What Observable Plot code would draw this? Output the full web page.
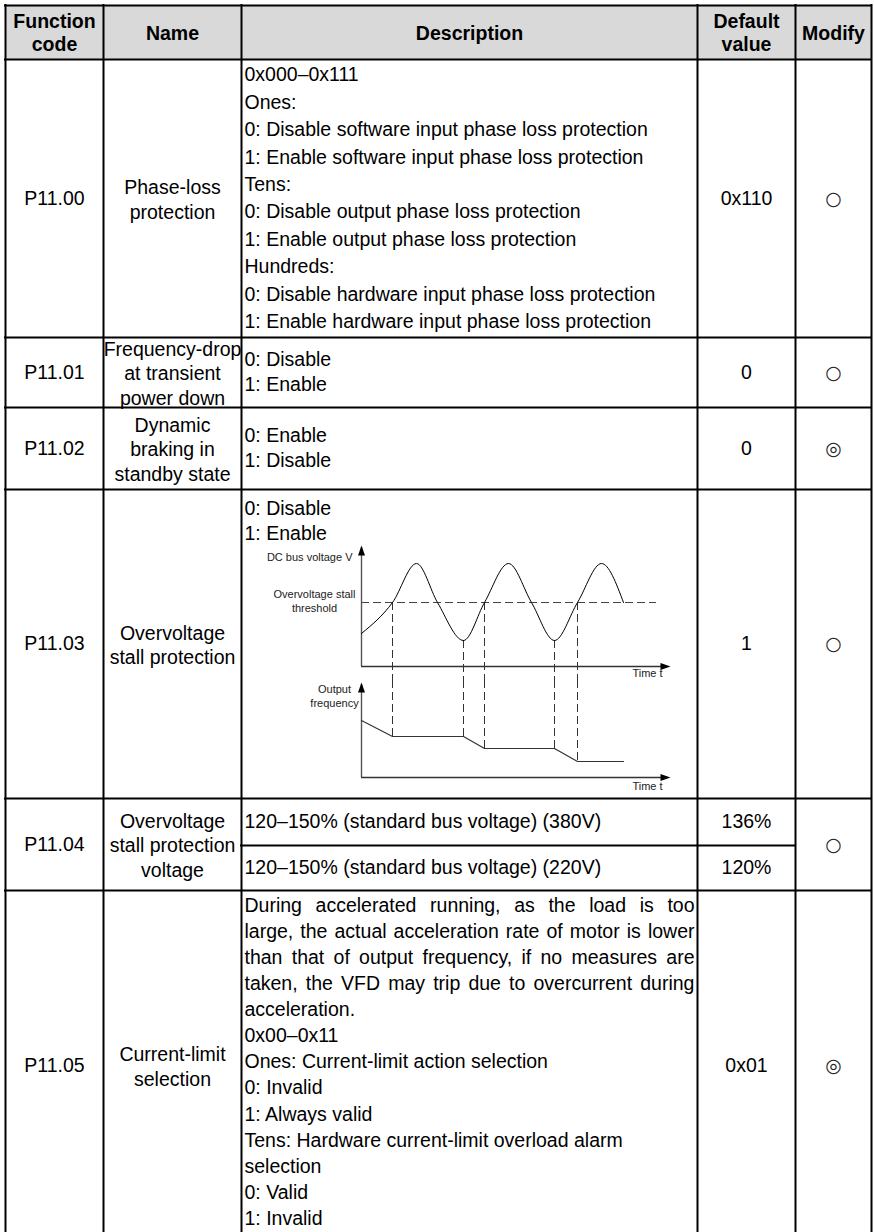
<!DOCTYPE html>
<html><head><meta charset="utf-8">
<script src="https://cdn.jsdelivr.net/npm/d3@7"></script>
<script src="https://cdn.jsdelivr.net/npm/@observablehq/plot@0.6"></script>
<style>
html,body{margin:0;padding:0;background:#fff;}
#page{position:relative;width:874px;height:1232px;overflow:hidden;background:#fff;}
#page svg{position:absolute;}
</style></head><body><div id="page"></div>
<script>
// ---------------- DATA ----------------
const headers = ["Function\ncode", "Name", "Description", "Default\nvalue", "Modify"];
const codes = ["P11.00", "P11.01", "P11.02", "P11.03", "P11.04", "P11.05"];
const names = [
  "Phase-loss\nprotection",
  "Frequency-drop\nat transient\npower down",
  "Dynamic\nbraking in\nstandby state",
  "Overvoltage\nstall protection",
  "Overvoltage\nstall protection\nvoltage",
  "Current-limit\nselection"
];
const descP1100 = [
  "0x000–0x111", "Ones:",
  "0: Disable software input phase loss protection",
  "1: Enable software input phase loss protection",
  "Tens:",
  "0: Disable output phase loss protection",
  "1: Enable output phase loss protection",
  "Hundreds:",
  "0: Disable hardware input phase loss protection",
  "1: Enable hardware input phase loss protection"
];
const descP1101 = ["0: Disable", "1: Enable"];
const descP1102 = ["0: Enable", "1: Disable"];
const descP1103 = ["0: Disable", "1: Enable"];
const descP1104 = ["120–150% (standard bus voltage) (380V)", "120–150% (standard bus voltage) (220V)"];
const descP1105 = [
  "During accelerated running, as the load is too",
  "large, the actual acceleration rate of motor is lower",
  "than that of output frequency, if no measures are",
  "taken, the VFD may trip due to overcurrent during",
  "acceleration.",
  "0x00–0x11",
  "Ones: Current-limit action selection",
  "0: Invalid",
  "1: Always valid",
  "Tens: Hardware current-limit overload alarm",
  "selection",
  "0: Valid",
  "1: Invalid"
];
const justifiedP1105 = [true, true, true, true, false, false, false, false, false, false, false, false, false];
const defaults = ["0x110", "0", "0", "1", ["136%", "120%"], "0x01"];
const modify = ["○", "○", "◎", "○", "○", "◎"];

// Diagram (P11.03): time t, DC bus voltage v, output frequency f
const voltageCurve = [
  {t: 0, v: 33}, {t: 3.1, v: 64}, {t: 5.5, v: 103}, {t: 7.6, v: 64}, {t: 10.2, v: 26},
  {t: 12.3, v: 64}, {t: 14.7, v: 103}, {t: 17.0, v: 64}, {t: 19.3, v: 26},
  {t: 21.6, v: 64}, {t: 24.0, v: 103}, {t: 26.2, v: 64}
];
const stallThreshold = 64;
const thresholdEnd = 29.5;
const frequencyCurve = [
  {t: 0, f: 57}, {t: 3.1, f: 41}, {t: 10.2, f: 41}, {t: 12.3, f: 29},
  {t: 19.3, f: 29}, {t: 21.6, f: 16}, {t: 26.2, f: 16}
];
const eventTimes = [3.1, 10.2, 12.3, 19.3, 21.6];
const eventVoltage = [64, 26, 64, 26, 64];
const eventFrequency = [41, 41, 29, 29, 16];
const axisTimeMax = 30.9, axisVMax = 121, axisFMax = 95;

// ---------------- LAYOUT ----------------
const colEdges = [5, 103, 241, 697, 795, 871];
const rowEdges = [5, 59, 337, 407, 489, 798, 890, 1240];
const splitY = 845;
const FONT = "'Liberation Sans', Arial, Helvetica, sans-serif";
const FS = 19.5;
const colC = i => (colEdges[i] + colEdges[i + 1]) / 2;
const rowC = i => (rowEdges[i] + rowEdges[i + 1]) / 2;
const textLeft = colEdges[2] + 3, textRight = colEdges[3] - 3;

// description line items
const descItems = [];
function addLines(lines, y0, dy, just) {
  lines.forEach((s, k) => descItems.push({x: textLeft, y: y0 + k * dy, text: s, justify: just ? just[k] : false}));
}
function centered(lines, r, dy) { addLines(lines, rowC(r) - (lines.length - 1) / 2 * dy, dy); }
centered(descP1100, 1, 27.4);
centered(descP1101, 2, 25);
centered(descP1102, 3, 25);
addLines(descP1103, rowEdges[4] + 19, 25);
descItems.push({x: textLeft, y: (rowEdges[5] + splitY) / 2, text: descP1104[0]});
descItems.push({x: textLeft, y: (splitY + rowEdges[6]) / 2, text: descP1104[1]});
addLines(descP1105, rowEdges[6] + 15, 26.1, justifiedP1105);

const defaultItems = [];
defaults.forEach((d, i) => {
  if (Array.isArray(d)) {
    defaultItems.push({text: d[0], y: (rowEdges[i + 1] + splitY) / 2});
    defaultItems.push({text: d[1], y: (splitY + rowEdges[i + 2]) / 2});
  } else defaultItems.push({text: d, y: rowC(i + 1)});
});

// borders
const hLines = [];
rowEdges.slice(0, 7).forEach(y => hLines.push({y, x1: colEdges[0], x2: colEdges[5]}));
hLines.push({y: splitY, x1: colEdges[2], x2: colEdges[4]});
const vLines = colEdges.map(x => ({x, y1: rowEdges[0], y2: rowEdges[7]}));

const tableSvg = Plot.plot({
  width: 874, height: 1232, margin: 0,
  style: {fontFamily: FONT, background: "none"},
  x: {type: "linear", domain: [0, 874], range: [0, 874], axis: null},
  y: {type: "linear", domain: [0, 1232], range: [0, 1232], axis: null},
  marks: [
    Plot.rect([0], {x1: colEdges[0], x2: colEdges[5], y1: rowEdges[0], y2: rowEdges[1], fill: "#d9d9d9"}),
    Plot.text(headers, {x: (d, i) => colC(i), y: rowC(0), text: d => d, fontSize: 19.5, fontWeight: "bold", lineHeight: 1.18, fill: "#000"}),
    Plot.text(codes, {x: colC(0), y: (d, i) => rowC(i + 1), text: d => d, fontSize: FS, fill: "#000"}),
    Plot.text(names, {x: colC(1), y: (d, i) => rowC(i + 1), text: d => d, fontSize: FS, lineHeight: 1.27, fill: "#000"}),
    Plot.text(descItems.filter(d => !d.justify), {x: "x", y: "y", text: "text", textAnchor: "start", fontSize: FS, fill: "#000"}),
    Plot.text(descItems.filter(d => d.justify), {x: "x", y: "y", text: "text", textAnchor: "start", fontSize: FS, fill: "#000", ariaDescription: "justified"}),
    Plot.text(defaultItems, {x: colC(3), y: "y", text: "text", fontSize: FS, fill: "#000"}),
    Plot.text(modify, {x: colC(4), y: (d, i) => rowC(i + 1), text: d => d, fontSize: 19, fontFamily: "DejaVu Sans", fill: "#222"}),
    Plot.ruleY(hLines, {y: "y", x1: "x1", x2: "x2", stroke: "#000", strokeWidth: 2, strokeLinecap: "square"}),
    Plot.ruleX(vLines, {x: "x", y1: "y1", y2: "y2", stroke: "#000", strokeWidth: 2, strokeLinecap: "square"})
  ]
});
tableSvg.style.left = "0px"; tableSvg.style.top = "0px";
document.getElementById("page").appendChild(tableSvg);

// justify the paragraph lines of P11.05
d3.select(tableSvg).selectAll('g[aria-description="justified"] text').each(function () {
  const len = this.getComputedTextLength();
  const spaces = (this.textContent.match(/ /g) || []).length;
  if (spaces > 0) this.setAttribute("word-spacing", ((textRight - textLeft - len) / spaces).toFixed(2));
  if (spaces > 0) this.style.wordSpacing = ((textRight - textLeft - len) / spaces).toFixed(2) + "px";
});

// ---------------- DIAGRAM ----------------
const upArrow = {draw(c) { c.moveTo(0, 0); c.lineTo(3.5, 10); c.lineTo(-3.5, 10); c.closePath(); }};
const rightArrow = {draw(c) { c.moveTo(0, 0); c.lineTo(-10, -3.5); c.lineTo(-10, 3.5); c.closePath(); }};
const xDom = [-9.9, 33.1], diagW = 430, diagLeft = 262;
const AX = "#555", LBL = 11;

const vPlot = Plot.plot({
  width: diagW, height: 140, margin: 0,
  style: {fontFamily: FONT, background: "none", overflow: "visible"},
  x: {type: "linear", domain: xDom, range: [0, diagW], axis: null},
  y: {type: "linear", domain: [-14, 126], range: [140, 0], axis: null},
  marks: [
    Plot.ruleY([stallThreshold], {x1: 0, x2: thresholdEnd, stroke: "#444", strokeWidth: 1, strokeDasharray: "8,4"}),
    Plot.ruleX(eventTimes, {x: d => d, y1: (d, i) => eventVoltage[i], y2: -14, stroke: "#333", strokeWidth: 1, strokeDasharray: "8,4"}),
    Plot.ruleX([0], {y1: 0, y2: axisVMax - 2, stroke: AX, strokeWidth: 1.4}),
    Plot.ruleY([0], {x1: 0, x2: axisTimeMax - 0.3, stroke: "#333", strokeWidth: 1.4}),
    Plot.dot([{t: 0, v: axisVMax}], {x: "t", y: "v", symbol: upArrow, fill: "#000", stroke: null}),
    Plot.dot([{t: axisTimeMax, v: 0}], {x: "t", y: "v", symbol: rightArrow, fill: "#000", stroke: null}),
    Plot.line(voltageCurve, {x: "t", y: "v", curve: "monotone-x", stroke: "#000", strokeWidth: 1}),
    Plot.text(["DC bus voltage V"], {x: -0.9, y: 109, text: d => d, textAnchor: "end", fontSize: LBL, fill: "#222"}),
    Plot.text(["Overvoltage stall\nthreshold"], {x: -4.7, y: 66, text: d => d, fontSize: LBL, lineHeight: 1.27, fill: "#222"}),
    Plot.text(["Time t"], {x: 28.6, y: -7, text: d => d, fontSize: LBL, fill: "#222"})
  ]
});
vPlot.style.left = diagLeft + "px"; vPlot.style.top = "540px";
document.getElementById("page").appendChild(vPlot);

const fPlot = Plot.plot({
  width: diagW, height: 113, margin: 0,
  style: {fontFamily: FONT, background: "none", overflow: "visible"},
  x: {type: "linear", domain: xDom, range: [0, diagW], axis: null},
  y: {type: "linear", domain: [-16, 97], range: [113, 0], axis: null},
  marks: [
    Plot.ruleX(eventTimes, {x: d => d, y1: 97, y2: (d, i) => eventFrequency[i], stroke: "#333", strokeWidth: 1, strokeDasharray: "8,4"}),
    Plot.ruleX([0], {y1: 0, y2: axisFMax - 2, stroke: AX, strokeWidth: 1.4}),
    Plot.ruleY([0], {x1: 0, x2: axisTimeMax - 0.3, stroke: "#333", strokeWidth: 1.4}),
    Plot.dot([{t: 0, f: axisFMax}], {x: "t", y: "f", symbol: upArrow, fill: "#000", stroke: null}),
    Plot.dot([{t: axisTimeMax, f: 0}], {x: "t", y: "f", symbol: rightArrow, fill: "#000", stroke: null}),
    Plot.line(frequencyCurve, {x: "t", y: "f", stroke: "#333", strokeWidth: 1.2}),
    Plot.text(["Output\nfrequency"], {x: -2.7, y: 82, text: d => d, fontSize: LBL, lineHeight: 1.27, fill: "#222"}),
    Plot.text(["Time t"], {x: 28.6, y: -9, text: d => d, fontSize: LBL, fill: "#222"})
  ]
});
fPlot.style.left = diagLeft + "px"; fPlot.style.top = "680px";
document.getElementById("page").appendChild(fPlot);
</script>
</body></html>
